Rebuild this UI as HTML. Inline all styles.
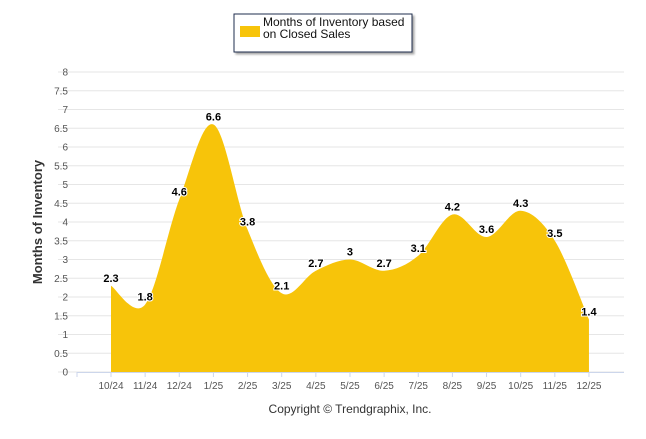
<!DOCTYPE html>
<html><head><meta charset="utf-8"><style>
body{margin:0;background:#fff;font-family:"Liberation Sans",Arial,sans-serif}
svg text{font-family:"Liberation Sans",Arial,sans-serif}
</style></head><body>
<svg id="c" width="646" height="434">
  <rect x="234" y="14" width="178" height="38" fill="#fff" stroke="#1f2d4d" stroke-width="1" style="filter:drop-shadow(2px 2px 1px rgba(0,0,0,0.35))"/>
  <rect x="240" y="26" width="20" height="11" fill="#f7c40a"/>
  <text x="263" y="26" font-size="12" fill="#111"><tspan x="263">Months of Inventory based</tspan><tspan x="263" dy="12">on Closed Sales</tspan></text>
  <g id="grid"></g>
  <path id="area" fill="#f7c40a"/>
  <g id="labels"></g>
  <text transform="translate(42,222) rotate(-90)" text-anchor="middle" font-size="13" font-weight="bold" fill="#333">Months of Inventory</text>
  <text x="350" y="413" text-anchor="middle" font-size="12" fill="#333">Copyright © Trendgraphix, Inc.</text>
</svg>
<script>
const categories=["10/24","11/24","12/24","1/25","2/25","3/25","4/25","5/25","6/25","7/25","8/25","9/25","10/25","11/25","12/25"];
const values=[2.3,1.8,4.6,6.6,3.8,2.1,2.7,3,2.7,3.1,4.2,3.6,4.3,3.5,1.4];
const yTicks=[0,0.5,1,1.5,2,2.5,3,3.5,4,4.5,5,5.5,6,6.5,7,7.5,8];
const NS="http://www.w3.org/2000/svg";
const y0=372,y8=72,xFirst=111,xStep=34.14;
const yS=v=>y0-(v/8)*(y0-y8);
const xS=i=>xFirst+i*xStep;
function mk(t,a,p){const e=document.createElementNS(NS,t);for(const k in a)e.setAttribute(k,a[k]);p.appendChild(e);return e;}
const g=document.getElementById('grid');
yTicks.forEach(v=>{
  const l=mk('line',{x1:58,x2:624,y1:yS(v),y2:yS(v),stroke:'#e6e6e6','stroke-width':1},g);
  
  
  const t=mk('text',{x:68,y:yS(v)+3.5,'text-anchor':'end','font-size':10,fill:'#555'},g);
  t.textContent=v;
  
  
});
mk('line',{x1:77,x2:624,y1:y0+0.5,y2:y0+0.5,stroke:'#ccd6eb'},g);
const tk=mk('line',{x1:77,x2:77,y1:y0,y2:y0+5,stroke:'#ccd6eb'},g);
categories.forEach((c,i)=>{
  const l=mk('line',{x1:xS(i),x2:xS(i),y1:y0,y2:y0+5,stroke:'#ccd6eb'},g);
  
  
  const t=mk('text',{x:xS(i),y:y0+17,'text-anchor':'middle','font-size':10,fill:'#555'},g);
  t.textContent=c;
  
  
});
const P=values.map((v,i)=>[xS(i),yS(v)]);
let d=`M${P[0][0]},${y0}L${P[0][0]},${P[0][1]}`;
for(let i=0;i<P.length-1;i++){
  const p0=P[Math.max(0,i-1)],p1=P[i],p2=P[i+1],p3=P[Math.min(P.length-1,i+2)];
  const c1=[p1[0]+(p2[0]-p0[0])/6,p1[1]+(p2[1]-p0[1])/6];
  const c2=[p2[0]-(p3[0]-p1[0])/6,p2[1]-(p3[1]-p1[1])/6];
  d+=`C${c1[0]},${c1[1]} ${c2[0]},${c2[1]} ${p2[0]},${p2[1]}`;
}
d+=`L${P[P.length-1][0]},${y0}Z`;
document.getElementById('area').setAttribute('d',d);
const lg=document.getElementById('labels');
values.forEach((v,i)=>{
  const t=mk('text',{x:xS(i),y:yS(v)-4,'text-anchor':'middle','font-size':11,'font-weight':'bold',fill:'#000',stroke:'#fff','stroke-width':2,'paint-order':'stroke'},lg);
  t.textContent=v;
  
  
});
</script>
</body></html>
